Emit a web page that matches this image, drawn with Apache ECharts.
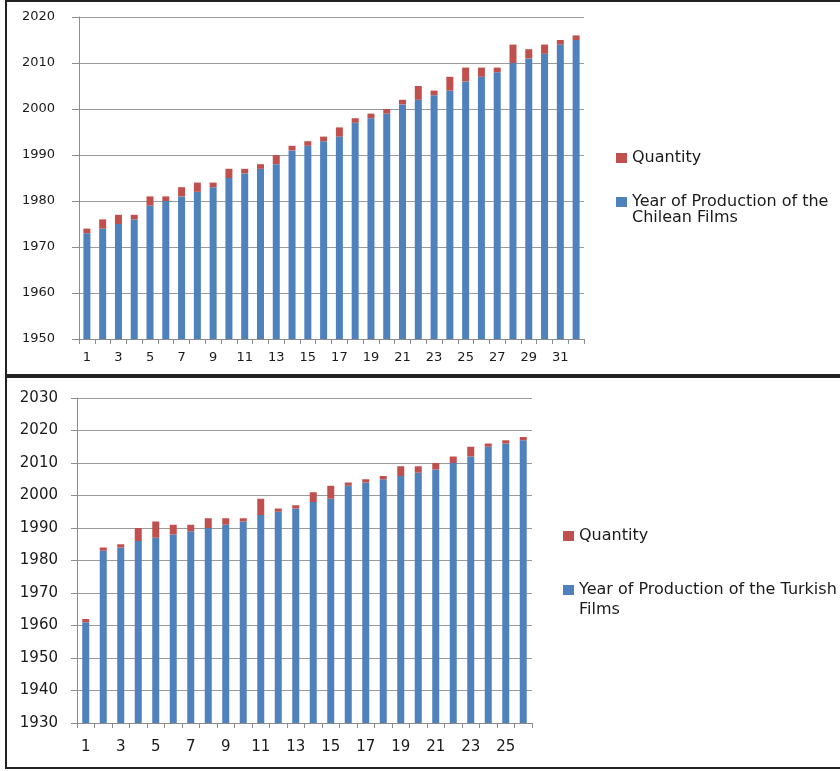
<!DOCTYPE html>
<html>
<head>
<meta charset="utf-8">
<script src="https://cdn.jsdelivr.net/npm/echarts@6/dist/echarts.min.js"></script>
<style>
html,body{margin:0;padding:0;background:#fff;}
#main{width:840px;height:771px;}
</style>
</head>
<body>
<div id="main"></div>
<script>
// ---- Chilean films (top chart) ----
const chileCategories = ['1','2','3','4','5','6','7','8','9','10','11','12','13','14','15','16','17','18','19','20','21','22','23','24','25','26','27','28','29','30','31','32'];
const chileYears = [1973,1974,1975,1976,1979,1980,1981,1982,1983,1985,1986,1987,1988,1991,1992,1993,1994,1997,1998,1999,2001,2002,2003,2004,2006,2007,2008,2010,2011,2012,2014,2015];
const chileQuantity = [1,2,2,1,2,1,2,2,1,2,1,1,2,1,1,1,2,1,1,1,1,3,1,3,3,2,1,4,2,2,1,1];

// ---- Turkish films (bottom chart) ----
const turkCategories = ['1','2','3','4','5','6','7','8','9','10','11','12','13','14','15','16','17','18','19','20','21','22','23','24','25','26'];
const turkYears = [1961,1983,1984,1986,1987,1988,1989,1990,1991,1992,1994,1995,1996,1998,1999,2003,2004,2005,2006,2007,2008,2010,2012,2015,2016,2017];
const turkQuantity = [1,1,1,4,5,3,2,3,2,1,5,1,1,3,4,1,1,1,3,2,2,2,3,1,1,1];

const nameQty = 'Quantity';
const nameChile = 'Year of Production of the\nChilean Films';
const nameTurk = 'Year of Production of the Turkish\nFilms';

const BLUE = '#4F81BD', RED = '#C0504D';
const FONT = 'DejaVu Sans';
const GRID = '#9a9a9a', AXIS = '#8c8c8c', TXT = '#1a1a1a';

function yAxis(gridIndex, min, max, fs, margin, tick) {
  return {
    type: 'value', gridIndex, min, max, interval: 10,
    axisLine: {show: true, lineStyle: {color: AXIS}},
    axisTick: {show: true, length: tick, lineStyle: {color: AXIS}},
    splitLine: {show: true, lineStyle: {color: GRID}},
    axisLabel: {fontFamily: FONT, fontSize: fs, color: TXT, margin, formatter: v => String(v)}
  };
}
function xAxis(gridIndex, data, fs, margin) {
  return {
    type: 'category', gridIndex, data,
    axisLine: {show: true, lineStyle: {color: AXIS}},
    axisTick: {show: true, length: 5, interval: 0, lineStyle: {color: AXIS}},
    axisLabel: {fontFamily: FONT, fontSize: fs, color: TXT, margin, interval: 1}
  };
}
function legendItem(name, left, top, lh, multi) {
  return {
    orient: 'vertical', left, top, padding: 0, selectedMode: false,
    icon: 'rect', itemWidth: 11, itemHeight: 10,
    data: [name],
    // a blank first line keeps the icon level with the first text line
    formatter: multi ? (n => ' \n' + n) : undefined,
    textStyle: {fontFamily: FONT, fontSize: 16, color: TXT, lineHeight: lh}
  };
}

const chart = echarts.init(document.getElementById('main'), null, {renderer: 'canvas'});
chart.setOption({
  animation: false,
  backgroundColor: '#fff',
  grid: [
    {left: 79, right: 256, top: 17, bottom: 432},
    {left: 77, right: 308, top: 398, bottom: 48}
  ],
  xAxis: [xAxis(0, chileCategories, 13, 12), xAxis(1, turkCategories, 15, 17)],
  yAxis: [yAxis(0, 1950, 2020, 13, 24, 7), yAxis(1, 1930, 2030, 15, 19, 6)],
  legend: [
    legendItem(nameQty, 616, 150, 16, false),
    legendItem(nameChile, 616, 178, 16, true),
    legendItem(nameQty, 563, 526, 20, false),
    legendItem(nameTurk, 563, 560, 20, true)
  ],
  series: [
    {name: nameChile, type: 'bar', xAxisIndex: 0, yAxisIndex: 0, stack: 'c', barWidth: 7, clip: true,
      itemStyle: {color: BLUE}, data: chileYears},
    {name: nameQty, type: 'bar', xAxisIndex: 0, yAxisIndex: 0, stack: 'c', barWidth: 7, clip: true,
      itemStyle: {color: RED}, data: chileQuantity},
    {name: nameTurk, type: 'bar', xAxisIndex: 1, yAxisIndex: 1, stack: 't', barWidth: 7, clip: true,
      itemStyle: {color: BLUE}, data: turkYears},
    {name: nameQty, type: 'bar', xAxisIndex: 1, yAxisIndex: 1, stack: 't', barWidth: 7, clip: true,
      itemStyle: {color: RED}, data: turkQuantity}
  ],
  graphic: [
    {type: 'rect', silent: true, z: 100, shape: {x: 6, y: 1, width: 900, height: 374},
      style: {fill: null, stroke: '#222', lineWidth: 2}},
    {type: 'rect', silent: true, z: 100, shape: {x: 6, y: 377, width: 900, height: 391},
      style: {fill: null, stroke: '#222', lineWidth: 2}}
  ]
});
</script>
</body>
</html>
